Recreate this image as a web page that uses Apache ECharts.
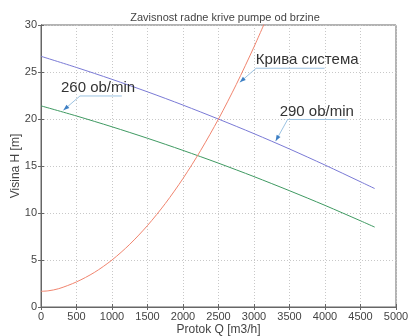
<!DOCTYPE html>
<html>
<head>
<meta charset="utf-8">
<script src="https://cdn.jsdelivr.net/npm/echarts@6/dist/echarts.min.js"></script>
<style>html,body{margin:0;padding:0;background:#fff}#c{width:409px;height:336px}</style>
</head>
<body>
<div id="c"></div>
<script>
var title = 'Zavisnost radne krive pumpe od brzine';
var xName = 'Protok Q [m3/h]';
var yName = 'Visina H [m]';
var xTicks = [0, 500, 1000, 1500, 2000, 2500, 3000, 3500, 4000, 4500, 5000];
var yTicks = [0, 5, 10, 15, 20, 25, 30];

var pumpQ = [0, 500, 1000, 1500, 2000, 2500, 3000, 3500, 4000, 4500, 4700];
var h290 = [26.67, 25.48, 24.22, 22.89, 21.48, 19.99, 18.44, 16.81, 15.10, 13.32, 12.60];
var h260 = [21.40, 20.32, 19.17, 17.95, 16.66, 15.30, 13.87, 12.37, 10.81, 9.17, 8.50];

var sysQ = [0, 100, 250, 500, 750, 1000, 1250, 1500, 1750, 2000, 2250, 2500, 2750, 3000, 3200];
var hSys = [1.67, 1.72, 1.95, 2.67, 3.67, 5.00, 6.67, 8.67, 11.00, 13.67, 16.67, 20.00, 23.67, 27.67, 31.10];

var labels = [
  {text: 'Крива система', textAt: [3024, 25.45], at: [3030, 25.4], tip: [2800, 23.9], lineEnd: [3994, 25.4]},
  {text: '290 ob/min', textAt: [3361, 20.0], at: [3474, 19.95], tip: [3305, 17.65], lineEnd: [4304, 19.95]},
  {text: '260 ob/min', textAt: [281, 22.5], at: [549, 22.45], tip: [315, 20.93], lineEnd: [1139, 22.45]}
];

function pairs(xs, ys) { return xs.map(function (x, i) { return [x, ys[i]]; }); }

var chart = echarts.init(document.getElementById('c'), null, {renderer: 'canvas'});
var font = 'Liberation Sans, Arial, sans-serif';
var axisCommon = {
  type: 'value',
  axisLine: {show: true, lineStyle: {color: '#666', width: 1}},
  axisTick: {show: true, inside: true, length: 3, lineStyle: {color: '#666'}},
  splitLine: {show: false}
};
var opt = {
  animation: false,
  backgroundColor: '#fff',
  title: {text: title, left: 220, textAlign: 'center', top: 7,
    textStyle: {fontFamily: font, fontSize: 11, fontWeight: 'normal', color: '#444'}},
  grid: {left: 41, right: 13, top: 25, bottom: 29, show: true, borderColor: '#666', borderWidth: 1,
    containLabel: false, outerBoundsMode: 'none'},
  xAxis: [
    Object.assign({}, axisCommon, {
      min: 0, max: 5000, interval: 500, position: 'bottom',
      name: xName, nameLocation: 'middle', nameGap: 17, nameMoveOverlap: false,
      nameTextStyle: {fontFamily: font, fontSize: 12, color: '#444'},
      axisLabel: {fontFamily: font, fontSize: 11, color: '#444', margin: 4,
        formatter: function (v) { return xTicks.indexOf(v) >= 0 ? String(v) : ''; }},
      splitLine: {show: true, lineStyle: {color: '#c8c8c8', type: [1, 2], width: 1}}
    }),
    Object.assign({}, axisCommon, {min: 0, max: 5000, interval: 500, position: 'top', axisLabel: {show: false}})
  ],
  yAxis: [
    Object.assign({}, axisCommon, {
      min: 0, max: 30, interval: 5, position: 'left',
      name: yName, nameLocation: 'middle', nameGap: 19, nameMoveOverlap: false,
      nameTextStyle: {fontFamily: font, fontSize: 12, color: '#444'},
      axisLabel: {fontFamily: font, fontSize: 11, color: '#444', margin: 4,
        formatter: function (v) { return yTicks.indexOf(v) >= 0 ? String(v) : ''; }},
      splitLine: {show: true, lineStyle: {color: '#c8c8c8', type: [1, 2], width: 1}}
    }),
    Object.assign({}, axisCommon, {min: 0, max: 30, interval: 5, position: 'right', axisLabel: {show: false}})
  ],
  series: [
    {type: 'line', name: '290', data: pairs(pumpQ, h290), smooth: 0.3, showSymbol: false, clip: true,
      lineStyle: {color: '#7a7ad6', width: 1}},
    {type: 'line', name: '260', data: pairs(pumpQ, h260), smooth: 0.3, showSymbol: false, clip: true,
      lineStyle: {color: '#3f9a62', width: 1}},
    {type: 'line', name: 'sys', data: pairs(sysQ, hSys), smooth: 0.3, showSymbol: false, clip: true,
      lineStyle: {color: '#f0846e', width: 1}}
  ]
};
chart.setOption(opt);

var g = [];
labels.forEach(function (l) {
  var a = chart.convertToPixel({gridIndex: 0}, l.at);
  var t = chart.convertToPixel({gridIndex: 0}, l.tip);
  var e = chart.convertToPixel({gridIndex: 0}, l.lineEnd);
  var p = chart.convertToPixel({gridIndex: 0}, l.textAt);
  g.push({type: 'line', shape: {x1: a[0], y1: a[1], x2: e[0], y2: e[1]}, style: {stroke: '#9cc3e2', lineWidth: 1}, z: 10});
  g.push({type: 'line', shape: {x1: a[0], y1: a[1], x2: t[0], y2: t[1]}, style: {stroke: '#9cc3e2', lineWidth: 1}, z: 10});
  var dx = a[0] - t[0], dy = a[1] - t[1], len = Math.sqrt(dx * dx + dy * dy);
  var ux = dx / len, uy = dy / len, hl = 6, hw = 2.2;
  var bx = t[0] + ux * hl, by = t[1] + uy * hl;
  g.push({type: 'polygon', shape: {points: [[t[0], t[1]], [bx - uy * hw, by + ux * hw], [bx + uy * hw, by - ux * hw]]},
    style: {fill: '#3d7fc4'}, z: 11});
  g.push({type: 'text', x: p[0], y: p[1], style: {text: l.text, fontFamily: font, fontSize: 15, fill: '#333',
    textAlign: 'left', textVerticalAlign: 'bottom'}, z: 12});
});
chart.setOption({graphic: g});
</script>
</body>
</html>
